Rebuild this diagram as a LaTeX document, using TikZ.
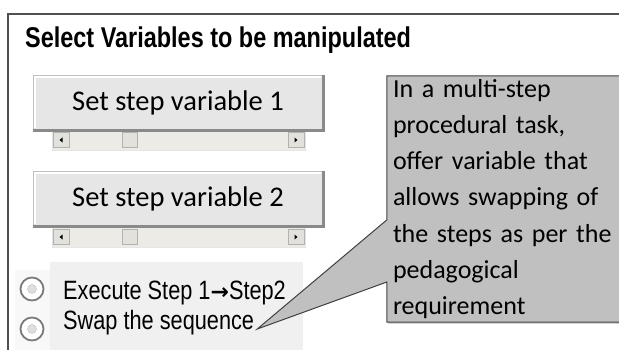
\documentclass[tikz,border=0pt]{standalone}
\usepackage{fontspec}
\usetikzlibrary{calc,shadows}
\setmainfont{Carlito}
\newfontfamily\notefont[WordSpace=0.65]{Carlito}
\newfontfamily\narrowfont[FakeStretch=0.82]{Liberation Sans}
\newfontfamily\arrowfont{DejaVu Sans}
\definecolor{framegray}{HTML}{505050}
\definecolor{btnface}{HTML}{E6E6E6}
\definecolor{btnshade}{HTML}{8A8A8A}
\definecolor{trackgray}{HTML}{ECEBE6}
\definecolor{boxgray}{HTML}{E2E1DC}
\definecolor{radiobg}{HTML}{F0F0F0}
\definecolor{radioring}{HTML}{7A7A7A}
\definecolor{notegray}{HTML}{C0C0C0}
\definecolor{noteedge}{HTML}{404040}

\begin{document}
\begin{tikzpicture}[x=1pt, y=-1pt,
	button/.style={rectangle, fill=btnface, draw=gray!50, minimum width=290pt, minimum height=55pt, inner sep=0pt, font=\fontsize{28.5}{30}\selectfont},
	track/.style={rectangle, fill=trackgray, draw=gray!20, minimum width=253pt, minimum height=20pt, inner sep=0pt},
	arrowbox/.style={rectangle, fill=boxgray, draw=gray!60, minimum width=16pt, minimum height=15pt, inner sep=0pt},
	radio/.style={circle, draw=radioring, fill=white, line width=1.8pt, minimum size=23pt, inner sep=0pt},
	radiodot/.style={circle, draw=gray!50, fill=gray!25, minimum size=9pt, inner sep=0pt},
	option/.style={anchor=base west, inner sep=0pt, font=\narrowfont\fontsize{26.5}{28}\selectfont},
	note/.style={rectangle, fill=notegray, minimum width=234pt, minimum height=246pt, text width=222pt, align=left, inner sep=0pt, font=\notefont\fontsize{26}{36.2}\selectfont, drop shadow={shadow xshift=1pt, shadow yshift=-2pt, opacity=0.35}},
	noteline/.style={noteedge, line width=1pt, line join=miter}]
		\useasboundingbox (0,0) rectangle (619,350);
		% frame and title
		\draw [framegray, line width=1.5pt] (8,352) -- (8,14) -- (621,14);
		\draw (25,48) node [anchor=base west, inner sep=0pt, font=\narrowfont\bfseries\fontsize{28.6}{30}\selectfont] (title) {Select Variables to be manipulated};
		% sliders
		\draw (178.5,140) node [track] (sbA) {};
		\draw (178.5,237) node [track] (sbB) {};
		\foreach \s in {sbA, sbB} {
			\node [arrowbox, anchor=west] (\s-l) at ([xshift=1pt]\s.west) {};
			\node [arrowbox, anchor=east] (\s-r) at ([xshift=-1pt]\s.east) {};
			\node [arrowbox, minimum width=15pt] (\s-t) at ([xshift=-48.5pt]\s.center) {};
			\fill ([xshift=-1.5pt]\s-l.center) -- ++(3,-2.5) -- ++(0,5) -- cycle;
			\fill ([xshift=1.5pt]\s-r.center) -- ++(-3,-2.5) -- ++(0,5) -- cycle;
		}
		% buttons
		\draw (178,102.5) node [button] (btnA) {Set step variable 1};
		\draw (178,198.5) node [button] (btnB) {Set step variable 2};
		\foreach \b in {btnA, btnB} {
			\draw [white, line width=1.5pt] ([xshift=2pt, yshift=2pt]\b.south west) -- ([xshift=2pt, yshift=-2pt]\b.north west) -- ([xshift=-2pt, yshift=-2pt]\b.north east);
			\draw [btnshade, line width=3pt] (\b.south west) -- (\b.south east) -- (\b.north east);
		}
		% options
		\fill [radiobg] (50,262) rectangle (303,352);
		\fill [radiobg!50!white] (15,270) rectangle (50,352);
		\draw (32,289) node [radio] (radA) {};
		\draw (32,329) node [radio] (radB) {};
		\draw (32,289) node [radiodot] (dotA) {};
		\draw (32,329) node [radiodot] (dotB) {};
		\draw (63,299) node [option] (exec) {Execute Step 1{\arrowfont\bfseries\fontsize{22}{24}\selectfont →}Step2};
		\draw (63,329) node [option] (swap) {Swap the sequence};
		% callout
		\draw (504,199) node [note] (note) {In a multi-step\\procedural task,\\offer variable that\\allows swapping of\\the steps as per the\\pedagogical\\requirement};
		\coordinate (tip) at ([xshift=3pt]swap.base east);
		\coordinate (pa) at ($(note.north west)!0.585!(note.south west)$);
		\coordinate (pb) at ($(note.north west)!0.837!(note.south west)$);
		\fill [notegray] (pa) -- (tip) -- (pb) -- cycle;
		\draw [noteline] (note.north east) -- (note.north west) -- (pa) -- (tip) -- (pb) -- (note.south west) -- (note.south east);
	\end{tikzpicture}
\end{document}
